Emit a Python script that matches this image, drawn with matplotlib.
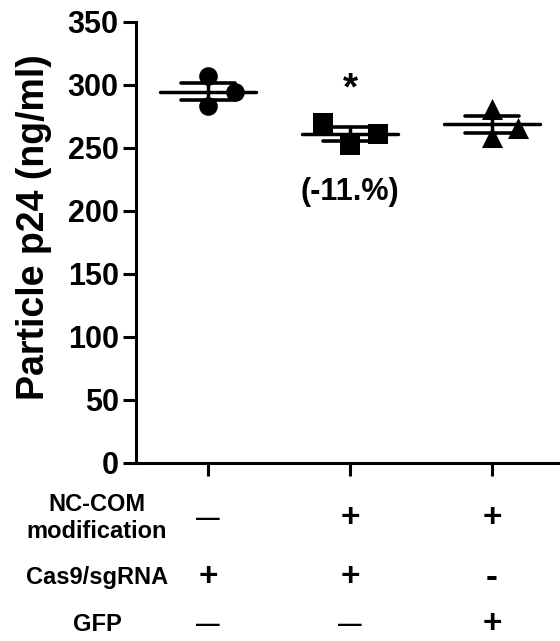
import numpy as np
import matplotlib
matplotlib.use("Agg")
import matplotlib.pyplot as plt

plt.rcParams['font.family'] = ['Liberation Sans', 'DejaVu Sans']
plt.rcParams['font.weight'] = 'bold'

# valores (ng/ml)
grupos = [1, 2, 3]
ctrl_vals = [307, 283, 294]
nccom_vals = [270, 252, 261]
gfp_vals = [281, 259, 266]
# deslocamento horizontal dos pontos (scatter de coluna)
ctrl_dx = [0, 0, 0.19]
nccom_dx = [-0.19, 0, 0.2]
gfp_dx = [0, 0, 0.18]
marcadores = ['o', 's', '^']
tamanhos = [180, 190, 230]

linhas = ["NC-COM\nmodification", "Cas9/sgRNA", "GFP"]
sinais = [["\u2014", "+", "+"],
          ["+", "+", "-"],
          ["\u2014", "\u2014", "+"]]

fig = plt.figure(figsize=(5.6, 6.41), dpi=100)
ax = fig.add_axes([136/560, 1-462.5/641, 1-136/560, 440.5/641])

dados = [ctrl_vals, nccom_vals, gfp_vals]
desloc = [ctrl_dx, nccom_dx, gfp_dx]
for g, vals, dx, m, sz in zip(grupos, dados, desloc, marcadores, tamanhos):
    vals = np.array(vals, dtype=float)
    media = vals.mean()
    sem = vals.std(ddof=1) / np.sqrt(len(vals))
    ax.scatter(g + np.array(dx), vals, marker=m, s=sz,
               color='black', zorder=3, linewidths=0)
    # media
    ax.plot([g-0.34, g+0.34], [media, media], color='black', lw=2.5, zorder=4,
            solid_capstyle='round')
    # erro padrao
    for v in [media-sem, media+sem]:
        ax.plot([g-0.19, g+0.19], [v, v], color='black', lw=2.6, zorder=4,
                solid_capstyle='round')
    ax.plot([g, g], [media-sem, media+sem], color='black', lw=2.5, zorder=4)

ax.text(2, 296, "*", ha='center', va='center', fontsize=28, fontweight='bold')
ax.text(2, 215, "(-11.%)", ha='center', va='center', fontsize=22, fontweight='bold')

ax.set_xlim(1 - 72/142, 3 + 68/142)
ax.set_ylim(0, 350)
ax.set_yticks(range(0, 351, 50))
ax.set_xticks(grupos)
ax.set_xticklabels([])
ax.tick_params(axis='both', direction='out', length=9.5, width=2.2, labelsize=22, pad=3)
for lb in ax.get_yticklabels():
    lb.set_fontweight('bold')
ax.spines['top'].set_visible(False)
ax.spines['right'].set_visible(False)
ax.spines['left'].set_linewidth(2.2)
ax.spines['bottom'].set_linewidth(2.2)

ax.set_ylabel("Particle p24 (ng/ml)", fontsize=27, fontweight='bold')
ax.yaxis.set_label_coords(-0.197, 0.535)

# tabela de condicoes abaixo do eixo
tr = ax.get_xaxis_transform()
y_linhas = [-0.126, -0.26, -0.368]
for nome, ys, sin in zip(linhas, y_linhas, sinais):
    ax.text(1 + (97-208)/142, ys, nome, transform=tr, ha='center', va='center',
            fontsize=17, fontweight='bold', linespacing=1.25, clip_on=False)
    for g, s in zip(grupos, sin):
        if s == "+":
            tam = 24
        elif s == "-":
            tam = 26
        else:
            tam = 17
        ax.text(g, ys, s, transform=tr, ha='center', va='center',
                fontsize=tam, fontweight='bold', clip_on=False)

fig.savefig("out.png", dpi=100)
